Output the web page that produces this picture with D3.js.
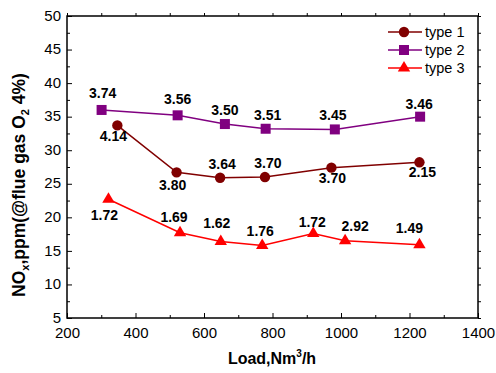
<!DOCTYPE html>
<html>
<head>
<meta charset="utf-8">
<script src="https://cdn.jsdelivr.net/npm/d3@7"></script>
<style>
  html, body { margin: 0; padding: 0; background: #fff; }
  svg { display: block; }
  text { font-family: Arial, "Liberation Sans", sans-serif; }
</style>
</head>
<body>
<svg id="chart" width="496" height="373"></svg>
<script>
// ---- data ----
const seriesNames = ["type 1", "type 2", "type 3"];
const load1 = [347, 520, 647, 778, 972, 1229];
const nox1  = [33.7, 26.7, 25.9, 26.0, 27.4, 28.2];
const label1 = ["4.14", "3.80", "3.64", "3.70", "3.70", "2.15"];

const load2 = [301, 523, 661, 780, 982, 1231];
const nox2  = [36.0, 35.2, 33.9, 33.2, 33.1, 35.0];
const label2 = ["3.74", "3.56", "3.50", "3.51", "3.45", "3.46"];

const load3 = [321, 530, 649, 770, 919, 1012, 1229];
const nox3  = [22.7, 17.7, 16.4, 15.8, 17.6, 16.5, 15.9];
const label3 = ["1.72", "1.69", "1.62", "1.76", "1.72", "2.92", "1.49"];

const xTicks = [200, 400, 600, 800, 1000, 1200, 1400];
const yTicks = [5, 10, 15, 20, 25, 30, 35, 40, 45, 50];

// ---- layout ----
const L = 67, R = 478, T = 16, B = 318;
const svg = d3.select("#chart");
const x = d3.scaleLinear().domain([200, 1400]).range([L, R]);
const y = d3.scaleLinear().domain([5, 50]).range([B, T]);

// label offsets (dx, dy of baseline from marker centre)
const off1 = [[-4, 16], [-4, 18], [2, -9], [3, -9], [1, 15], [3, 15]];
const off2 = [[1, -12], [0, -11], [0, -9], [2, -9], [-2, -9], [-1, -8]];
const off3 = [[-4, 21], [-6, -11], [-4, -13], [-2, -10], [-1, -6], [10, -10], [-10, -12]];

const series = [
  { name: seriesNames[0], xs: load1, ys: nox1, labels: label1, off: off1, color: "#800000", shape: "circle" },
  { name: seriesNames[1], xs: load2, ys: nox2, labels: label2, off: off2, color: "#800080", shape: "square" },
  { name: seriesNames[2], xs: load3, ys: nox3, labels: label3, off: off3, color: "#ff0000", shape: "triangle" }
];

// ---- axes ----
const minorX = d3.range(200, 1401, 100);
const minorY = d3.range(5, 50.01, 2.5);
const fmt = d3.format("d");

const bottom = svg.append("g").attr("transform", `translate(0,${B})`)
  .call(d3.axisBottom(x).tickValues(minorX).tickSize(-3).tickFormat(""));
bottom.call(g => g.selectAll(".tick line").attr("y2", d => (d % 200 === 0 ? -5 : -3)));
bottom.select(".domain").remove();
svg.append("g").attr("transform", `translate(0,${B})`)
  .call(d3.axisBottom(x).tickValues(xTicks).tickSize(0).tickPadding(9).tickFormat(fmt))
  .call(g => g.select(".domain").remove())
  .call(g => g.selectAll("text").attr("font-size", 15).attr("fill", "#000")
    .attr("font-family", "Arial, 'Liberation Sans', sans-serif"));

const left = svg.append("g").attr("transform", `translate(${L},0)`)
  .call(d3.axisLeft(y).tickValues(minorY).tickSize(-3).tickFormat(""));
left.call(g => g.selectAll(".tick line").attr("x2", d => (d % 5 === 0 ? 5 : 3)));
left.select(".domain").remove();
svg.append("g").attr("transform", `translate(${L},0)`)
  .call(d3.axisLeft(y).tickValues(yTicks).tickSize(0).tickPadding(6).tickFormat(fmt))
  .call(g => g.select(".domain").remove())
  .call(g => g.selectAll("text").attr("font-size", 15).attr("fill", "#000").attr("dy", "0.28em")
    .attr("font-family", "Arial, 'Liberation Sans', sans-serif"));

// top & right (outward small ticks)
svg.append("g").attr("transform", `translate(0,${T})`)
  .call(d3.axisTop(x).tickValues(minorX).tickSize(3).tickFormat(""))
  .call(g => g.select(".domain").remove());
svg.append("g").attr("transform", `translate(${R},0)`)
  .call(d3.axisRight(y).tickValues(minorY).tickSize(3).tickFormat(""))
  .call(g => g.select(".domain").remove());

svg.selectAll(".tick line").attr("stroke", "#000").attr("stroke-width", 1);

// frame
svg.append("rect").attr("x", L).attr("y", T).attr("width", R - L).attr("height", B - T)
  .attr("fill", "none").attr("stroke", "#000").attr("stroke-width", 1.5);

// ---- series ----
function drawMarker(g, shape, cx, cy, color, s) {
  s = s || 1;
  if (shape === "circle") {
    g.append("circle").attr("cx", cx).attr("cy", cy).attr("r", 5.2 * s).attr("fill", color);
  } else if (shape === "square") {
    const h = 5 * s;
    g.append("rect").attr("x", cx - h).attr("y", cy - h).attr("width", 2 * h).attr("height", 2 * h).attr("fill", color);
  } else {
    const w = 6.2 * s, hh = 10.5 * s;
    g.append("path").attr("d", `M${cx - w},${cy + hh / 3}L${cx + w},${cy + hh / 3}L${cx},${cy - 2 * hh / 3}Z`).attr("fill", color);
  }
}

const line = d3.line().x(d => x(d[0])).y(d => y(d[1]));
series.forEach(s => {
  const pts = s.xs.map((v, i) => [v, s.ys[i]]);
  const g = svg.append("g");
  g.append("path").attr("d", line(pts)).attr("fill", "none").attr("stroke", s.color).attr("stroke-width", 1.5);
  pts.forEach(p => drawMarker(g, s.shape, x(p[0]), y(p[1]), s.color));
  pts.forEach((p, i) => {
    g.append("text").attr("x", x(p[0]) + s.off[i][0]).attr("y", y(p[1]) + s.off[i][1])
      .attr("text-anchor", "middle").attr("font-size", 14).attr("font-weight", "bold")
      .attr("fill", "#000").text(s.labels[i]);
  });
});

// ---- legend ----
series.forEach((s, i) => {
  const ly = 32 + i * 18;
  const g = svg.append("g");
  g.append("line").attr("x1", 388).attr("x2", 422).attr("y1", ly).attr("y2", ly)
    .attr("stroke", s.color).attr("stroke-width", 1.5);
  drawMarker(g, s.shape, 404, ly, s.color);
  g.append("text").attr("x", 425).attr("y", ly + 5).attr("font-size", 14.5).attr("fill", "#000").text(s.name);
});

// ---- axis titles ----
const xt = svg.append("text").attr("x", 272).attr("y", 364).attr("text-anchor", "middle")
  .attr("font-size", 16).attr("font-weight", "bold").attr("fill", "#000");
xt.append("tspan").text("Load,Nm");
xt.append("tspan").attr("font-size", 10).attr("dy", -7).text("3");
xt.append("tspan").attr("dy", 7).text("/h");

const yt = svg.append("text").attr("transform", "translate(25,185) rotate(-90)").attr("text-anchor", "middle")
  .attr("font-size", 17.5).attr("font-weight", "bold").attr("fill", "#000");
yt.append("tspan").text("NO");
yt.append("tspan").attr("font-size", 11).attr("dy", 4).text("x");
yt.append("tspan").attr("dy", -4).text(",ppm(@flue gas O");
yt.append("tspan").attr("font-size", 11).attr("dy", 4).text("2");
yt.append("tspan").attr("dy", -4).text(" 4%)");
</script>
</body>
</html>
